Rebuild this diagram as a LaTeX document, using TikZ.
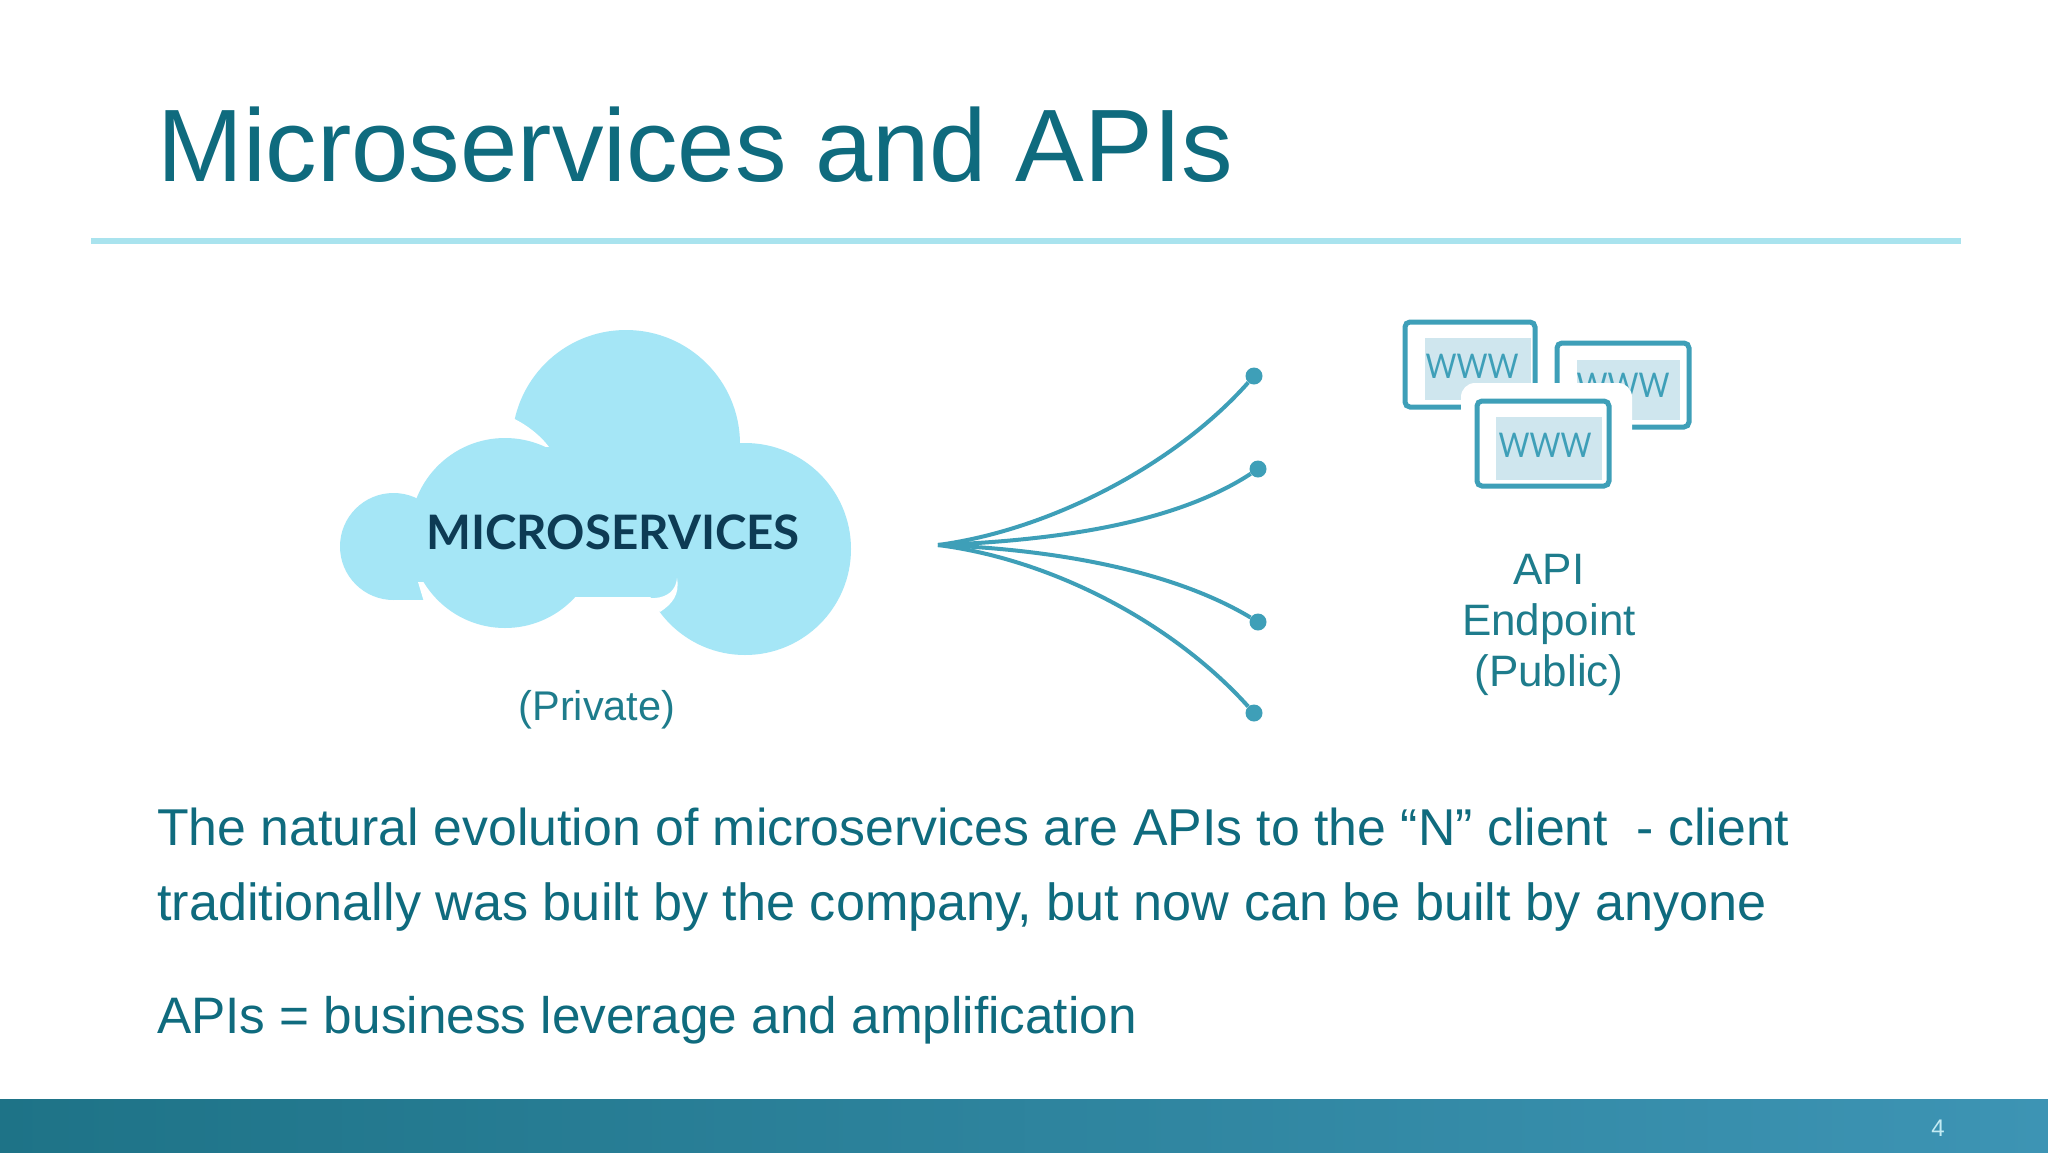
\documentclass[tikz,border=0pt]{standalone}
\usepackage{fontspec}
\setmainfont{Liberation Sans}
\newfontfamily\latofont{Lato}
\definecolor{inkteal}{HTML}{0F6B7E}
\definecolor{labelteal}{HTML}{1E7C8C}
\definecolor{cloudblue}{HTML}{A5E6F6}
\definecolor{rulecyan}{HTML}{A9E3EE}
\definecolor{linkblue}{HTML}{3E9FB8}
\definecolor{shadeblue}{HTML}{CFE6EE}
\definecolor{navy}{HTML}{0D3B54}
\definecolor{footleft}{HTML}{1E7387}
\definecolor{footright}{HTML}{3D94B4}
\tikzstyle{bodyline}=[anchor=base west,inner sep=0pt,text=inkteal,font=\fontsize{51.8}{60}\selectfont]
\tikzstyle{label}=[anchor=base,inner sep=0pt,text=labelteal,font=\fontsize{41.5}{51}\selectfont]
\tikzstyle{puff}=[cloudblue]
\tikzstyle{wwwbox}=[rectangle,draw=linkblue,line width=5pt,rounded corners=5pt,fill=white]
\tikzstyle{wwwshade}=[shadeblue]
\tikzstyle{wwwtext}=[inner sep=0pt,text=linkblue,font=\latofont\fontsize{34}{40}\selectfont]
\tikzstyle{link}=[draw=linkblue,line width=4pt]
\tikzstyle{endpoint}=[circle,fill=linkblue,inner sep=0pt,minimum size=17pt]
\begin{document}
\begin{tikzpicture}[x=1pt,y=-1pt]
  \useasboundingbox (0,0) rectangle (2048,1152);
  \fill[white] (0,0) rectangle (2048,1152);
  \shade[left color=footleft,right color=footright] (0,1099) rectangle (2048,1152);
  \node[anchor=center,inner sep=0pt,text=rulecyan!70!white,font=\fontsize{24}{28}\selectfont] (pagenum) at (1938,1128) {4};
  \node[anchor=base west,inner sep=0pt,text=inkteal,font=\fontsize{103}{120}\selectfont] (title) at (157,181) {Microservices and APIs};
  \fill[rulecyan] (91,238) rectangle (1961,244);

  \fill[puff] (626,444) circle (114);
  \fill[puff] (745,549) circle (106);
  \fill[puff] (393.5,546.5) circle (53.5);
  \fill[puff] (393,560) rectangle (424,600);
  \fill[puff] (500,450) rectangle (660,597);
  \fill[white] (508,416) .. controls (525,423) and (540,435) .. (549,447) -- (505,445) -- cycle;
  \fill[white] (677,578) .. controls (680,595) and (672,604) .. (660,612) -- (640,598) -- (655,598) .. controls (668,597) and (676,590) .. (677,578) -- cycle;
  \fill[white] (418,582) -- (428,582) -- (444,610) -- (424,602) -- cycle;
  \fill[puff] (505,533) circle (95);
  \node[inner sep=0pt,text=navy,font=\latofont\bfseries\fontsize{47.5}{50}\selectfont] (cloudname) at (613,532) {MICROSERVICES};
  \node[label] (private) at (597,720) {(Private)};

  \coordinate (hub) at (938,545);
  \node[endpoint] (dota) at (1254,376) {};
  \node[endpoint] (dotb) at (1258,469) {};
  \node[endpoint] (dotc) at (1258,622) {};
  \node[endpoint] (dotd) at (1254,713) {};
  \draw[link] (hub) .. controls (1050,530) and (1175,465) .. (dota);
  \draw[link] (hub) .. controls (1070,540) and (1180,520) .. (dotb);
  \draw[link] (hub) .. controls (1070,550) and (1180,575) .. (dotc);
  \draw[link] (hub) .. controls (1055,560) and (1175,625) .. (dotd);

  \draw[wwwbox] (1405,322) rectangle (1535,407);
  \fill[wwwshade] (1425,338) rectangle (1531,400);
  \node[wwwtext] (wwwa) at (1472,366) {\scalebox{.88}[1]{WWW}};
  \draw[wwwbox] (1557,343) rectangle (1689,427);
  \fill[wwwshade] (1577,360) rectangle (1680,420);
  \node[wwwtext] (wwwb) at (1623,385) {\scalebox{.88}[1]{WWW}};
  \fill[white,rounded corners=14pt] (1461,383) rectangle (1632,500);
  \draw[wwwbox] (1477,401) rectangle (1609,486);
  \fill[wwwshade] (1496,417) rectangle (1602,480);
  \node[wwwtext] (wwwc) at (1545,445) {\scalebox{.88}[1]{WWW}};

  \node[label,align=center,anchor=center,font=\fontsize{44}{51}\selectfont] (endpointname) at (1549,625) {API\\Endpoint\\(Public)};

  \node[bodyline] (linea) at (157,845) {The natural evolution of microservices are APIs to the “N” client\ \ - client};
  \node[bodyline,font=\fontsize{52.2}{60}\selectfont] (lineb) at (157,920) {traditionally was built by the company, but now can be built by anyone};
  \node[bodyline,font=\fontsize{51.3}{60}\selectfont] (linec) at (157,1033) {APIs = business leverage and amplification};
\end{tikzpicture}
\end{document}
